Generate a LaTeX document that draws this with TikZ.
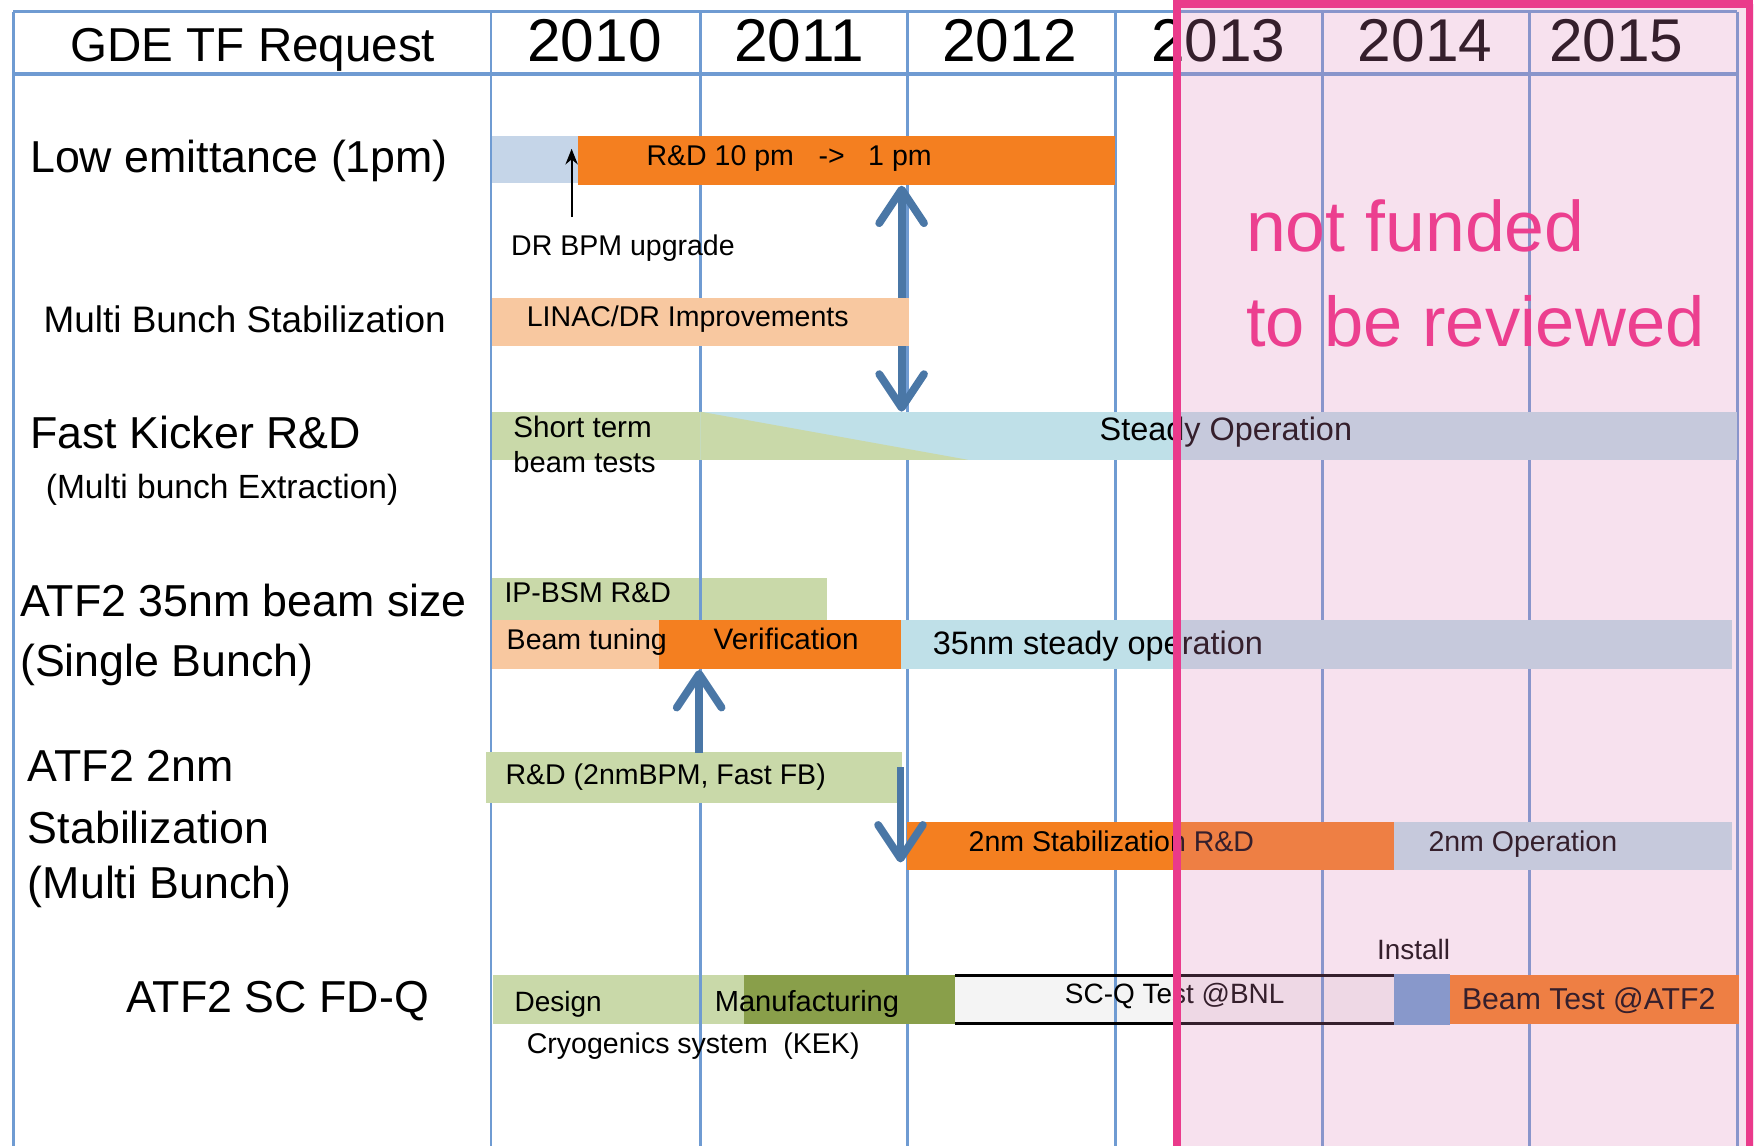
\documentclass[tikz,border=0pt]{standalone}
\usepackage{fontspec}
\setmainfont{Liberation Sans}
\usetikzlibrary{arrows.meta}
\definecolor{gridblue}{HTML}{6F9BD2}
\definecolor{barorange}{HTML}{F47F20}
\definecolor{barpeach}{HTML}{F8C8A0}
\definecolor{bargreen}{HTML}{C9D9A9}
\definecolor{bardkgreen}{HTML}{899F4A}
\definecolor{barblue}{HTML}{BFE0E8}
\definecolor{bargray}{HTML}{C5D5E8}
\definecolor{barinstall}{HTML}{6D9FD1}
\definecolor{boxwhite}{HTML}{F4F4F4}
\definecolor{arrowblue}{HTML}{4A77A6}
\definecolor{pinkline}{HTML}{EA3A8B}
\definecolor{pinkfill}{HTML}{DE82B8}
\definecolor{pinktext}{HTML}{EC3F8F}
\newcommand{\myfs}[1]{\fontsize{#1pt}{#1pt}\selectfont}
\begin{document}
\begin{tikzpicture}[x=1pt,y=-1pt,
  lbl/.style={anchor=base west, inner sep=0pt, outer sep=0pt, text=black},
  clbl/.style={anchor=base, inner sep=0pt, outer sep=0pt, text=black},
  gridln/.style={draw=gridblue, line width=2.5pt},
  bigarrow/.style={draw=arrowblue, line width=7pt, -{Straight Barb[length=30pt,width=40pt,round]}},
  bigdarrow/.style={draw=arrowblue, line width=7pt, {Straight Barb[length=30pt,width=40pt,round]}-{Straight Barb[length=30pt,width=40pt,round]}},
  smallarrow/.style={draw=black, line width=1.8pt, -{Stealth[length=14pt,width=11pt]}}
]
\useasboundingbox (0,0) rectangle (1568,1024);
\fill[white] (0,0) rectangle (1568,1024);

% bars under the grid
\fill[bargreen] (440,517) rectangle (739,554);
\fill[bargreen] (441,872) rectangle (666,915);
\fill[boxwhite] (854,872) rectangle (1246,915);

% grid
\draw[gridln] (12,10.5) -- (1553,10.5);
\draw[gridblue, line width=4pt] (12,66) -- (1553,66);
\foreach \gx in {12,439,626,811,997,1182,1367,1553}
  \draw[gridln] (\gx,10.5) -- (\gx,1030);

% row 1
\fill[bargray] (440,122) rectangle (517,164);
\fill[barorange] (517,122) rectangle (997,165);
% double arrow (behind LINAC bar)
\coordinate (daT) at (806,166);
\coordinate (daB) at (806,368);
\draw[bigdarrow] (daT) -- (daB);
% row 2
\fill[barpeach] (440,266) rectangle (813,309);
% row 3
\fill[barblue] (626,368) rectangle (1553,411);
\fill[bargreen] (440,368) rectangle (626,411);
\fill[bargreen] (626,368) -- (865,411) -- (626,411) -- cycle;
% row 4
\fill[barpeach] (440,554) rectangle (590,598);
\fill[barorange] (589,554) rectangle (805,598);
\fill[barblue] (805,554) rectangle (1548,598);
% row 5
\fill[bargreen] (434.5,672) rectangle (806.5,718);
\fill[barorange] (811,735) rectangle (1246,778);
\fill[barblue] (1246,735) rectangle (1548,778);
% row 6
\fill[bardkgreen] (665.5,872) rectangle (854,915);
\draw[black, line width=2pt] (854,872) -- (1246,872);
\draw[black, line width=2pt] (854,915) -- (1246,915);
\fill[barinstall] (1246,871) rectangle (1296,916);
\fill[barorange] (1296,872) rectangle (1555,915);

% arrows
\coordinate (uaS) at (625,673);
\coordinate (uaE) at (625,599);
\draw[bigarrow] (uaS) -- (uaE);
\coordinate (dnS) at (805,686);
\coordinate (dnE) at (805,771);
\draw[bigarrow] (dnS) -- (dnE);
\coordinate (saS) at (511,194);
\coordinate (saE) at (511,133);
\draw[smallarrow] (saS) -- (saE);

% header texts
\node[clbl] (hgde) at (226,55) {\myfs{42.5}GDE TF Request};
\node[clbl] (y10) at (531.5,55) {\myfs{54}2010};
\node[clbl] (y11) at (714.5,55) {\myfs{54}2011};
\node[clbl] (y12) at (902.5,55) {\myfs{54}2012};
\node[clbl] (y13) at (1089,55) {\myfs{54}2013};
\node[clbl] (y14) at (1274,55) {\myfs{54}2014};
\node[clbl] (y15) at (1445,55) {\myfs{54}2015};

% row titles
\node[lbl] (t1) at (27,154) {\myfs{40}Low emittance (1pm)};
\node[lbl] (t2) at (39,297) {\myfs{33}Multi Bunch Stabilization};
\node[lbl] (t3) at (27,401) {\myfs{40}Fast Kicker R\&D};
\node[lbl] (t3b) at (41,446) {\myfs{30}(Multi bunch Extraction)};
\node[lbl] (t4) at (18,551) {\myfs{40}ATF2 35nm beam size};
\node[lbl] (t4b) at (18,605) {\myfs{40}(Single Bunch)};
\node[lbl] (t5a) at (25,699) {\myfs{40}ATF2 2nm};
\node[lbl] (t5b) at (25,754) {\myfs{40}Stabilization};
\node[lbl] (t5c) at (25,803) {\myfs{40}(Multi Bunch)};
\node[lbl] (t6) at (113,905) {\myfs{40}ATF2 SC FD-Q};

% bar labels
\node[lbl] (l1) at (578,148) {\myfs{25.5}R\&D 10 pm\hspace{22pt}->\hspace{21pt}1 pm};
\node[lbl] (l1b) at (457,228) {\myfs{25.5}DR BPM upgrade};
\node[lbl] (l2) at (471,292) {\myfs{25.5}LINAC/DR Improvements};
\node[lbl] (l3a) at (459,391) {\myfs{26.5}Short term};
\node[lbl] (l3b) at (459,422) {\myfs{26}beam tests};
\node[lbl] (l3c) at (983,394) {\myfs{29}Steady Operation};
\node[lbl] (l4a) at (451,539) {\myfs{25.5}IP-BSM R\&D};
\node[lbl] (l4b) at (453,581) {\myfs{25.5}Beam tuning};
\node[lbl] (l4c) at (638,581) {\myfs{26.5}Verification};
\node[lbl] (l4d) at (834,585) {\myfs{29}35nm steady operation};
\node[lbl] (l5a) at (452,701) {\myfs{25.5}R\&D (2nmBPM, Fast FB)};
\node[lbl] (l5b) at (866,761) {\myfs{25.5}2nm Stabilization R\&D};
\node[lbl] (l5c) at (1277,761) {\myfs{25.5}2nm Operation};
\node[lbl] (l6i) at (1231,858) {\myfs{25}Install};
\node[lbl] (l6a) at (460,904) {\myfs{25}Design};
\node[lbl] (l6b) at (639,904) {\myfs{26}Manufacturing};
\node[lbl] (l6c) at (952,897) {\myfs{25}SC-Q Test @BNL};
\node[lbl] (l6d) at (1307,902) {\myfs{27}Beam Test @ATF2};
\node[lbl] (l6e) at (471,942) {\myfs{25.5}Cryogenics system\hspace{14pt}(KEK)};

% pink overlay
\fill[pinkfill, fill opacity=0.24] (1052,3.5) rectangle (1568,1030);
\draw[pinkline, line width=7pt] (1052,1040) -- (1052,3.5) -- (1564,3.5) -- (1564,1040);
\node[lbl, text=pinktext] (nf) at (1114,225) {\myfs{64}not funded};
\node[lbl, text=pinktext] (tbr) at (1114,310) {\myfs{63}to be reviewed};
\end{tikzpicture}
\end{document}
